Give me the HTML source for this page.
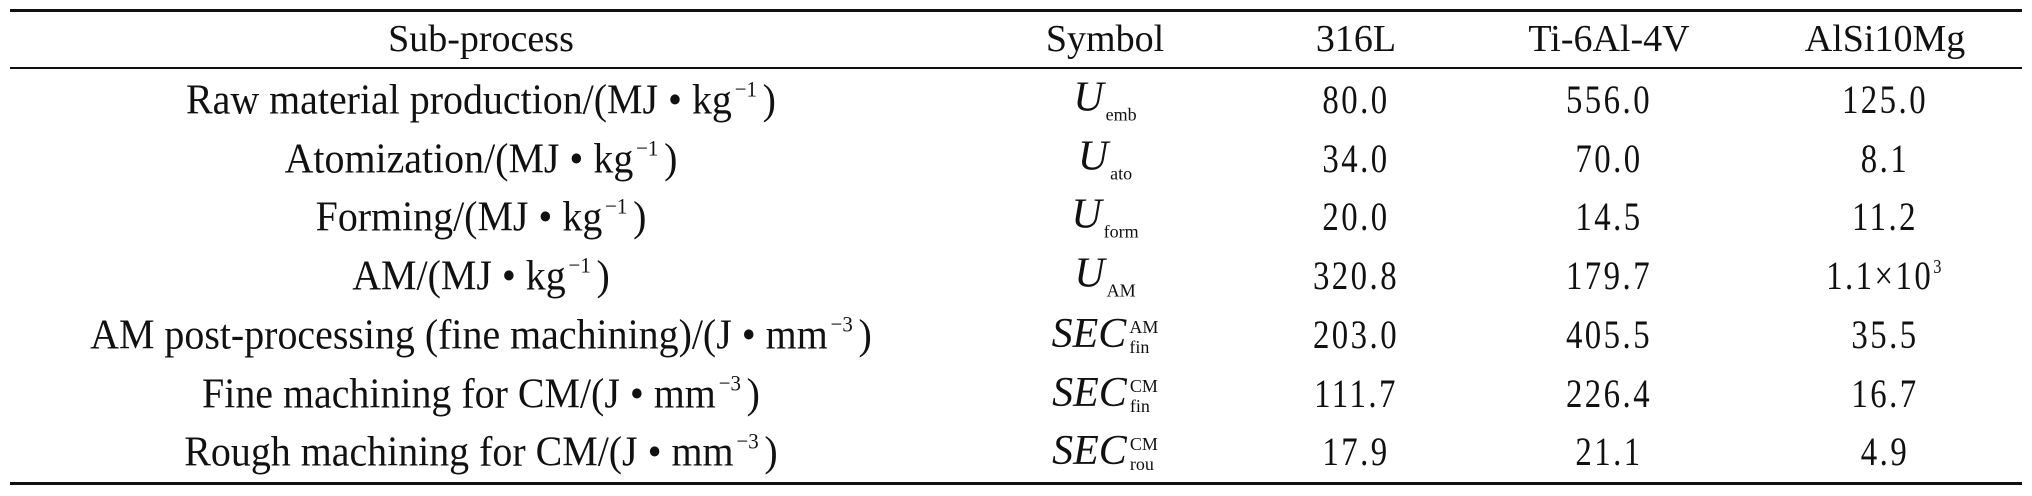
<!DOCTYPE html>
<html><head><meta charset="utf-8"><style>
html,body{margin:0;padding:0;background:#fff;}
#p{position:relative;width:2032px;height:496px;overflow:hidden;font-family:"Liberation Serif",serif;color:#111;}
.l{position:absolute;left:10px;width:2012px;background:#111;}
.c{position:absolute;white-space:nowrap;font-size:38px;line-height:1;transform:translate(-50%,-50%);}
.r{position:absolute;white-space:nowrap;font-size:42px;line-height:1;transform:translate(-50%,-50%) scaleX(.95);}
.n{position:absolute;white-space:nowrap;font-size:40px;line-height:1;transform:translate(-50%,-50%) scaleX(.82);letter-spacing:3px;}
sup.s{font-size:22px;vertical-align:17px;margin-left:3px;margin-right:6px;}
.sym{position:absolute;white-space:nowrap;font-size:42px;line-height:1;transform:translate(-50%,-50%);}
.sym i{font-style:italic;}
.sb{font-size:18px;vertical-align:-10px;margin-left:2px;}
.st{display:inline-block;vertical-align:middle;font-size:18px;line-height:20px;margin-left:3px;text-align:left;}
</style></head><body><div id="p">
<div class="l" style="top:9px;height:3px"></div>
<div class="l" style="top:67px;height:2px"></div>
<div class="l" style="top:482px;height:3px"></div>

<div class="c" style="left:481px;top:39px">Sub-process</div>
<div class="c" style="left:1105px;top:39px">Symbol</div>
<div class="c" style="left:1356px;top:39px">316L</div>
<div class="c" style="left:1609px;top:39px">Ti-6Al-4V</div>
<div class="c" style="left:1885px;top:39px">AlSi10Mg</div>

<div class="r" style="left:481px;top:100px">Raw material production/(MJ • kg<sup class="s">−1</sup>)</div>
<div class="r" style="left:481px;top:159px">Atomization/(MJ • kg<sup class="s">−1</sup>)</div>
<div class="r" style="left:481px;top:217px">Forming/(MJ • kg<sup class="s">−1</sup>)</div>
<div class="r" style="left:481px;top:276px">AM/(MJ • kg<sup class="s">−1</sup>)</div>
<div class="r" style="left:481px;top:335px">AM post-processing (fine machining)/(J • mm<sup class="s">−3</sup>)</div>
<div class="r" style="left:481px;top:394px">Fine machining for CM/(J • mm<sup class="s">−3</sup>)</div>
<div class="r" style="left:481px;top:452px">Rough machining for CM/(J • mm<sup class="s">−3</sup>)</div>

<div class="sym" style="left:1105px;top:100px"><i>U</i><span class="sb">emb</span></div>
<div class="sym" style="left:1105px;top:159px"><i>U</i><span class="sb">ato</span></div>
<div class="sym" style="left:1105px;top:217px"><i>U</i><span class="sb">form</span></div>
<div class="sym" style="left:1105px;top:276px"><i>U</i><span class="sb">AM</span></div>
<div class="sym" style="left:1105px;top:335px"><i>SEC</i><span class="st">AM<br>fin</span></div>
<div class="sym" style="left:1105px;top:394px"><i>SEC</i><span class="st">CM<br>fin</span></div>
<div class="sym" style="left:1105px;top:452px"><i>SEC</i><span class="st">CM<br>rou</span></div>

<div class="n" style="left:1356px;top:100px">80.0</div>
<div class="n" style="left:1609px;top:100px">556.0</div>
<div class="n" style="left:1885px;top:100px">125.0</div>
<div class="n" style="left:1356px;top:159px">34.0</div>
<div class="n" style="left:1609px;top:159px">70.0</div>
<div class="n" style="left:1885px;top:159px">8.1</div>
<div class="n" style="left:1356px;top:217px">20.0</div>
<div class="n" style="left:1609px;top:217px">14.5</div>
<div class="n" style="left:1885px;top:217px">11.2</div>
<div class="n" style="left:1356px;top:276px">320.8</div>
<div class="n" style="left:1609px;top:276px">179.7</div>
<div class="n" style="left:1885px;top:276px">1.1×10<sup style="font-size:20px;vertical-align:16px">3</sup></div>
<div class="n" style="left:1356px;top:335px">203.0</div>
<div class="n" style="left:1609px;top:335px">405.5</div>
<div class="n" style="left:1885px;top:335px">35.5</div>
<div class="n" style="left:1356px;top:394px">111.7</div>
<div class="n" style="left:1609px;top:394px">226.4</div>
<div class="n" style="left:1885px;top:394px">16.7</div>
<div class="n" style="left:1356px;top:452px">17.9</div>
<div class="n" style="left:1609px;top:452px">21.1</div>
<div class="n" style="left:1885px;top:452px">4.9</div>
</div></body></html>
